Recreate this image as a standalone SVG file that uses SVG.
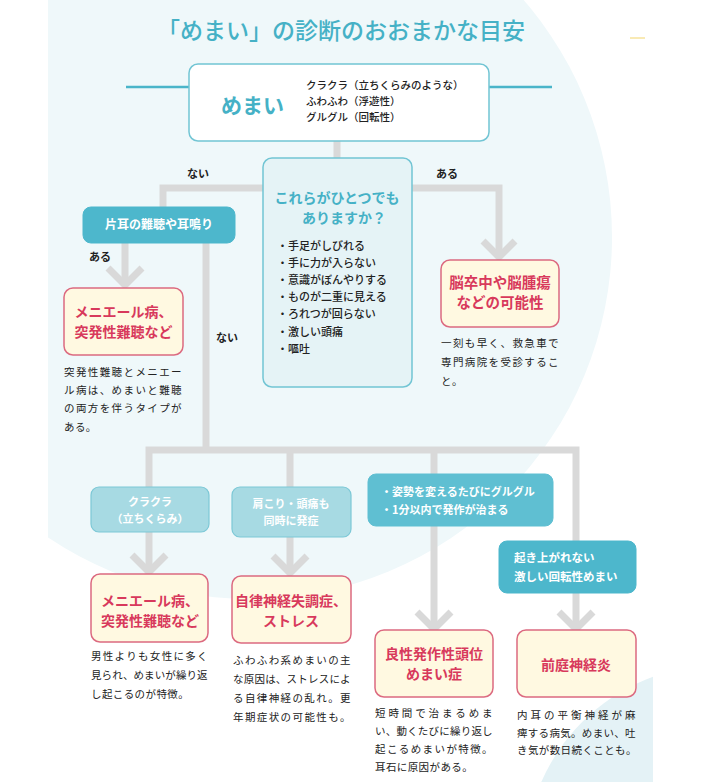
<svg xmlns="http://www.w3.org/2000/svg" width="702" height="782" viewBox="0 0 702 782">
<style>
text{font-family:"Noto Sans CJK JP","Noto Sans",sans-serif}
.title{font-size:23px;fill:#45b1c6;font-weight:500}
.conn{fill:none;stroke:#d9d9d9;stroke-width:7}
.chev{fill:none;stroke:#d9d9d9;stroke-width:7;stroke-linejoin:miter}
.tline{fill:none;stroke:#4ab5c9;stroke-width:2.5}
.wbox{fill:#ffffff;stroke:#72c5d4;stroke-width:1.5}
.qbox{fill:#e5f3f6;stroke:#72c5d4;stroke-width:1.5}
.lt{fill:#a7dae3;stroke:#7cc8d6;stroke-width:1.2}
.md{fill:#5fbfd2;stroke:#5fbfd2;stroke-width:1}
.dk{fill:#4db7cc;stroke:#4db7cc;stroke-width:1}
.res{fill:#fff9e1;stroke:#dc6a80;stroke-width:1.5}
.rt{font-size:14px;font-weight:700;fill:#d8395c;text-anchor:middle}
.wt{font-size:11px;font-weight:700;fill:#ffffff}
.cap{font-size:10.5px;fill:#222;letter-spacing:0.4px}
.lbl{font-size:11px;font-weight:700;fill:#222}
.blk{font-size:10.5px;fill:#222;font-weight:500}
.bul{font-size:11px;fill:#222;font-weight:500}
</style>
<defs>
<clipPath id="clipA"><rect x="48" y="0" width="654" height="782"/></clipPath>
<clipPath id="clipB"><rect x="0" y="0" width="653" height="782"/></clipPath>
</defs>
<rect x="0" y="0" width="702" height="782" fill="#ffffff"/>
<circle cx="250" cy="237" r="362" fill="#eff8fa" clip-path="url(#clipA)"/>
<circle cx="720" cy="860" r="195" fill="#e4f2f6" clip-path="url(#clipB)"/>
<line x1="630" y1="38" x2="645" y2="38" stroke="#f3d56a" stroke-width="1"/>

<text class="title" x="341" y="39" text-anchor="middle">「めまい」の診断のおおまかな目安</text>

<g id="connectors">
<path class="tline" d="M126 87H189M489 87H552"/>
<path class="conn" d="M337 141V160"/>
<path class="conn" d="M265 188H163V208"/>
<path class="conn" d="M410 188H499V258"/>
<path class="conn" d="M125 243V284"/>
<path class="conn" d="M206 243V450"/>
<path class="conn" d="M149 571V450H576V628"/>
<path class="conn" d="M290 450V572"/>
<path class="conn" d="M434 450V628"/>
<polyline class="chev" points="108,268 125,285 142,268"/>
<polyline class="chev" points="483,241 499,257 515,241"/>
<polyline class="chev" points="132,555 149,572 166,555"/>
<polyline class="chev" points="273,556 290,573 307,556"/>
<polyline class="chev" points="417,612 434,629 451,612"/>
<polyline class="chev" points="559,612 576,629 593,612"/>
<text class="lbl" x="198" y="178" text-anchor="middle">ない</text>
<text class="lbl" x="447" y="178" text-anchor="middle">ある</text>
<text class="lbl" x="100" y="261" text-anchor="middle">ある</text>
<text class="lbl" x="227" y="342" text-anchor="middle">ない</text>
</g>

<g id="n-memai">
<rect class="wbox" x="189" y="64" width="300" height="77" rx="9"/>
<text x="221" y="113" font-size="21" font-weight="700" fill="#45b1c6">めまい</text>
<text class="blk" x="306" y="89">クラクラ（立ちくらみのような）</text>
<text class="blk" x="306" y="105">ふわふわ（浮遊性）</text>
<text class="blk" x="306" y="121">グルグル（回転性）</text>
</g>

<g id="n-question">
<rect class="qbox" x="263" y="158" width="149" height="229" rx="9"/>
<text x="337" y="203" font-size="14" font-weight="700" fill="#45b1c6" text-anchor="middle">これらがひとつでも</text>
<text x="344" y="223" font-size="14" font-weight="700" fill="#45b1c6" text-anchor="middle">ありますか？</text>
<text class="bul" x="277" y="250">・手足がしびれる</text>
<text class="bul" x="277" y="267">・手に力が入らない</text>
<text class="bul" x="277" y="284">・意識がぼんやりする</text>
<text class="bul" x="277" y="301">・ものが二重に見える</text>
<text class="bul" x="277" y="318">・ろれつが回らない</text>
<text class="bul" x="277" y="336">・激しい頭痛</text>
<text class="bul" x="277" y="353">・嘔吐</text>
</g>

<g id="n-katamimi">
<rect class="dk" x="83" y="207" width="152" height="36" rx="8"/>
<text class="wt" x="159" y="229" text-anchor="middle" style="font-size:12px">片耳の難聴や耳鳴り</text>
</g>

<g id="n-meniere1">
<rect class="res" x="64" y="288" width="119" height="67" rx="9"/>
<text class="rt" x="123.5" y="317">メニエール病、</text>
<text class="rt" x="123.5" y="337">突発性難聴など</text>
<text class="cap" x="64" y="376" textLength="118" lengthAdjust="spacing">突発性難聴とメニエー</text>
<text class="cap" x="64" y="394" textLength="118" lengthAdjust="spacing">ル病は、めまいと難聴</text>
<text class="cap" x="64" y="412" textLength="118" lengthAdjust="spacing">の両方を伴うタイプが</text>
<text class="cap" x="64" y="431">ある。</text>
</g>

<g id="n-stroke">
<rect class="res" x="441" y="260" width="118" height="67" rx="9"/>
<text class="rt" x="500" y="288" style="font-size:14.5px">脳卒中や脳腫瘍</text>
<text class="rt" x="500" y="308" style="font-size:14.5px">などの可能性</text>
<text class="cap" x="441" y="347" textLength="118" lengthAdjust="spacing">一刻も早く、救急車で</text>
<text class="cap" x="441" y="366" textLength="118" lengthAdjust="spacing">専門病院を受診するこ</text>
<text class="cap" x="441" y="385">と。</text>
</g>

<g id="n-kurakura">
<rect class="lt" x="91" y="487" width="118" height="45" rx="8"/>
<text class="wt" x="150" y="506" text-anchor="middle">クラクラ</text>
<text class="wt" x="150" y="523" text-anchor="middle">（立ちくらみ）</text>
</g>

<g id="n-katakori">
<rect class="lt" x="232" y="487" width="119" height="50" rx="8"/>
<text class="wt" x="291" y="508" text-anchor="middle">肩こり・頭痛も</text>
<text class="wt" x="291" y="525" text-anchor="middle">同時に発症</text>
</g>

<g id="n-shisei">
<rect class="md" x="368" y="474" width="185" height="52" rx="8"/>
<text class="wt" x="381" y="496">・姿勢を変えるたびにグルグル</text>
<text class="wt" x="381" y="514">・1分以内で発作が治まる</text>
</g>

<g id="n-okiagare">
<rect class="dk" x="499" y="541" width="137" height="52" rx="8"/>
<text class="wt" x="514" y="562" style="font-size:11.5px">起き上がれない</text>
<text class="wt" x="514" y="581" style="font-size:11.5px">激しい回転性めまい</text>
</g>

<g id="n-meniere2">
<rect class="res" x="91" y="574" width="117" height="68" rx="9"/>
<text class="rt" x="150" y="606">メニエール病、</text>
<text class="rt" x="150" y="626">突発性難聴など</text>
<text class="cap" x="91" y="660" textLength="117" lengthAdjust="spacing">男性よりも女性に多く</text>
<text class="cap" x="91" y="679" textLength="117" lengthAdjust="spacing">見られ、めまいが繰り返</text>
<text class="cap" x="91" y="698">し起こるのが特徴。</text>
</g>

<g id="n-jiritsu">
<rect class="res" x="232" y="576" width="119" height="67" rx="9"/>
<text class="rt" x="291" y="606">自律神経失調症、</text>
<text class="rt" x="291" y="626">ストレス</text>
<text class="cap" x="233" y="664" textLength="118" lengthAdjust="spacing">ふわふわ系めまいの主</text>
<text class="cap" x="233" y="683" textLength="118" lengthAdjust="spacing">な原因は、ストレスによ</text>
<text class="cap" x="233" y="702" textLength="118" lengthAdjust="spacing">る自律神経の乱れ。更</text>
<text class="cap" x="233" y="721" textLength="118" lengthAdjust="spacing">年期症状の可能性も。</text>
</g>

<g id="n-ryosei">
<rect class="res" x="375" y="630" width="118" height="67" rx="9"/>
<text class="rt" x="434" y="659">良性発作性頭位</text>
<text class="rt" x="434" y="679">めまい症</text>
<text class="cap" x="375" y="717" textLength="118" lengthAdjust="spacing">短時間で治まるめま</text>
<text class="cap" x="375" y="735" textLength="118" lengthAdjust="spacing">い、動くたびに繰り返し</text>
<text class="cap" x="375" y="753" textLength="118" lengthAdjust="spacing">起こるめまいが特徴。</text>
<text class="cap" x="375" y="771">耳石に原因がある。</text>
</g>

<g id="n-zentei">
<rect class="res" x="517" y="630" width="119" height="67" rx="9"/>
<text class="rt" x="576" y="670">前庭神経炎</text>
<text class="cap" x="517" y="719" textLength="119" lengthAdjust="spacing">内耳の平衡神経が麻</text>
<text class="cap" x="517" y="737" textLength="119" lengthAdjust="spacing">痺する病気。めまい、吐</text>
<text class="cap" x="517" y="754">き気が数日続くことも。</text>
</g>
</svg>
